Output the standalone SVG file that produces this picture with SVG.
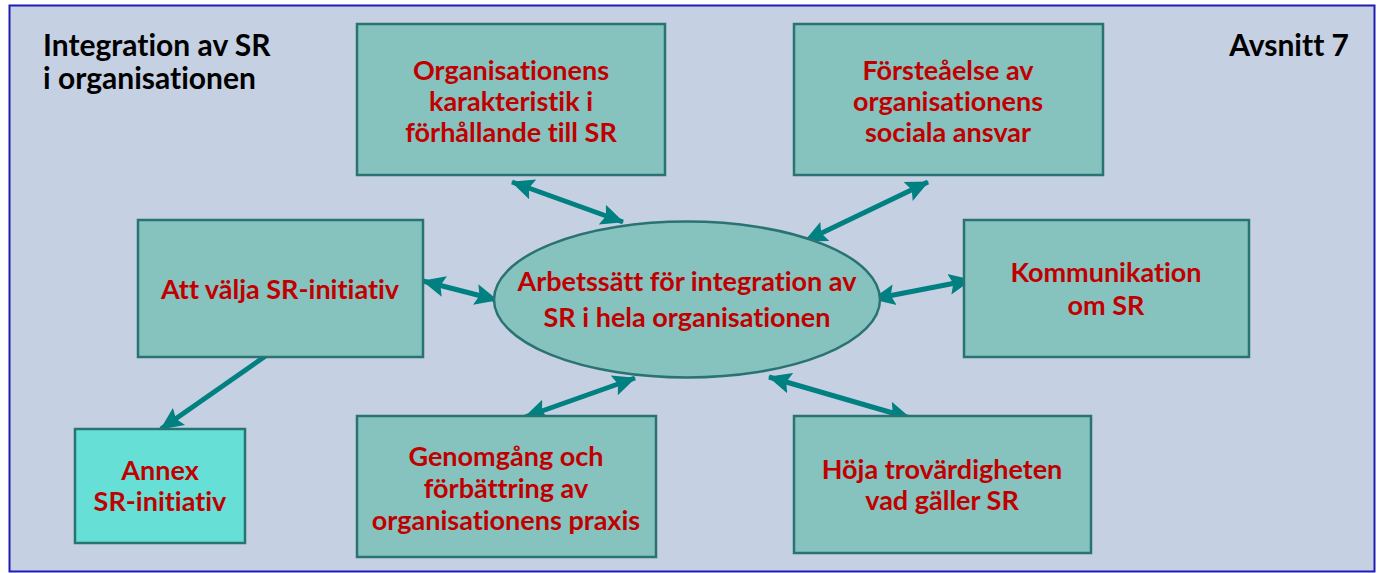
<svg xmlns="http://www.w3.org/2000/svg" width="1389" height="573" viewBox="0 0 1389 573">
<style>
.box{fill:#86C2BE;stroke:#2A7373;stroke-width:2.5}
.annex{fill:#66E0D6;stroke:#2A7373;stroke-width:2.5}
.lbl{font-family:Lato,"Open Sans",sans-serif;font-weight:bold;font-size:27px;fill:#C00000;text-anchor:middle;font-variant-ligatures:none}
.ttl{font-family:Lato,"Open Sans",sans-serif;font-weight:bold;font-size:30px;fill:#000;font-variant-ligatures:none}
.con{stroke:#008080;stroke-width:5;fill:none}
</style>
<defs>
<marker id="ah" markerUnits="userSpaceOnUse" markerWidth="24" markerHeight="24" viewBox="0 0 24 24" refX="22" refY="12" orient="auto-start-reverse">
<path d="M0,1.5 L23,12 L0,22.5 L4,12 z" fill="#008080"/>
</marker>
</defs>
<rect x="0" y="0" width="1389" height="573" fill="#ffffff"/>
<rect id="frame" x="9.5" y="5.5" width="1365" height="566" fill="#C5D0E2" stroke="#1E1EB4" stroke-width="2"/>
<g id="title"><text class="ttl" x="43" y="56">Integration av SR</text><text class="ttl" x="43" y="89">i organisationen</text></g>
<g id="section"><text class="ttl" x="1349" y="56" text-anchor="end">Avsnitt 7</text></g>
<g id="connectors">
<line class="con" x1="512" y1="182" x2="623" y2="222" marker-start="url(#ah)" marker-end="url(#ah)"/>
<line class="con" x1="928" y1="182" x2="805" y2="241" marker-start="url(#ah)" marker-end="url(#ah)"/>
<line class="con" x1="423" y1="281" x2="497" y2="300" marker-start="url(#ah)" marker-end="url(#ah)"/>
<line class="con" x1="873" y1="299" x2="971" y2="280" marker-start="url(#ah)" marker-end="url(#ah)"/>
<line class="con" x1="635" y1="378" x2="525" y2="417" marker-start="url(#ah)" marker-end="url(#ah)"/>
<line class="con" x1="769" y1="377" x2="910" y2="418" marker-start="url(#ah)" marker-end="url(#ah)"/>
<line class="con" x1="267" y1="355" x2="161" y2="429" marker-end="url(#ah)"/>
</g>
<g id="n-org"><rect class="box" x="357" y="24" width="308" height="151"/><text class="lbl" x="511" y="80">Organisationens</text><text class="lbl" x="511" y="111">karakteristik i</text><text class="lbl" x="511" y="142">förhållande till SR</text></g>
<g id="n-forst"><rect class="box" x="794" y="24" width="309" height="151"/><text class="lbl" x="948" y="80">Försteåelse av</text><text class="lbl" x="948" y="111">organisationens</text><text class="lbl" x="948" y="142">sociala ansvar</text></g>
<g id="n-valja"><rect class="box" x="138" y="220" width="285" height="137"/><text class="lbl" x="280" y="299">Att välja SR-initiativ</text></g>
<g id="n-komm"><rect class="box" x="964" y="220" width="285" height="137"/><text class="lbl" x="1106" y="282">Kommunikation</text><text class="lbl" x="1106" y="315">om SR</text></g>
<g id="n-center"><ellipse class="box" cx="687" cy="299.5" rx="193" ry="78"/><text class="lbl" x="687" y="291">Arbetssätt för integration av</text><text class="lbl" x="687" y="327">SR i hela organisationen</text></g>
<g id="n-annex"><rect class="annex" x="75" y="429" width="170" height="114"/><text class="lbl" x="160" y="480">Annex</text><text class="lbl" x="160" y="511">SR-initiativ</text></g>
<g id="n-genom"><rect class="box" x="357" y="416" width="299" height="141"/><text class="lbl" x="506" y="466">Genomgång och</text><text class="lbl" x="506" y="498">förbättring av</text><text class="lbl" x="506" y="530">organisationens praxis</text></g>
<g id="n-hoja"><rect class="box" x="794" y="416" width="297" height="137"/><text class="lbl" x="942" y="479">Höja trovärdigheten</text><text class="lbl" x="942" y="510">vad gäller SR</text></g>
</svg>
